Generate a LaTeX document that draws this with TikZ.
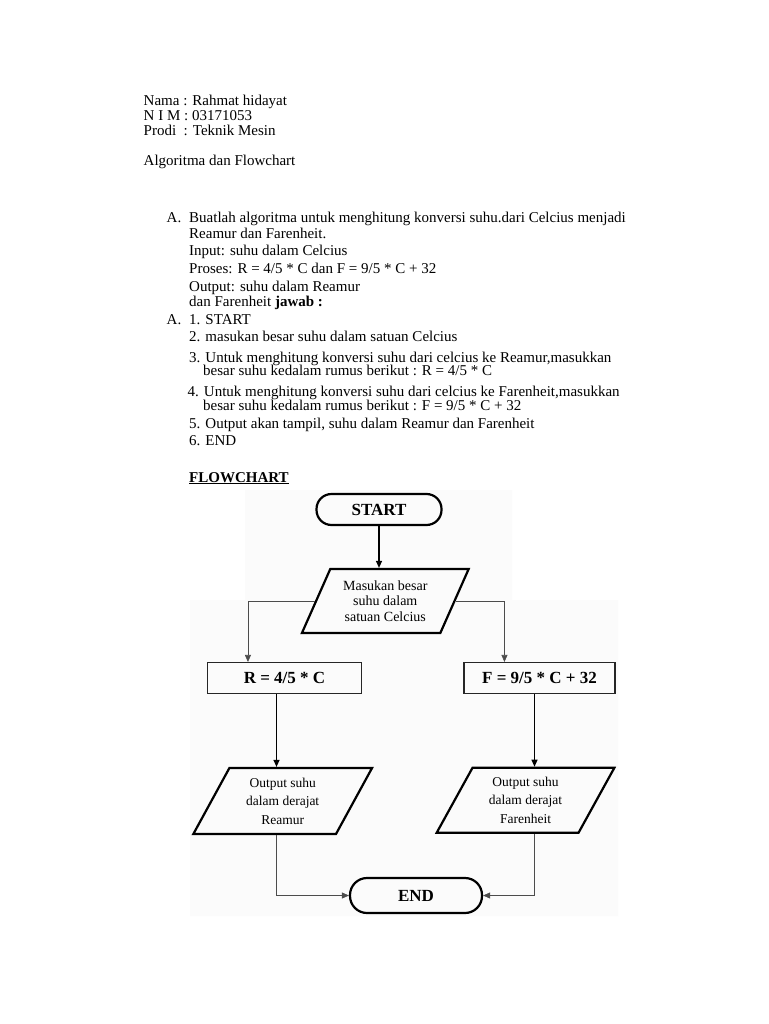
\documentclass[tikz,border=0pt]{standalone}
\usepackage{fontspec}
\setmainfont{Liberation Serif}
\usetikzlibrary{shapes.geometric,arrows.meta}
\tikzset{
  txt/.style={anchor=base west,inner sep=0pt,font=\fontsize{15}{16}\selectfont},
  term/.style={draw,line width=2.2pt,rounded corners=15pt,minimum width=125,minimum height=31,font=\fontsize{17}{19}\selectfont\bfseries},
  io/.style={draw,line width=2.2pt,trapezium,trapezium left angle=62,trapezium right angle=118,trapezium stretches=true,inner sep=0pt,align=center},
  calc/.style={draw,line width=1.1pt,black!85,text=black,minimum height=31,inner sep=0pt,font=\fontsize{17}{19}\selectfont\bfseries},
  arr/.style={line width=1.2pt,-{Triangle[length=7pt,width=6pt]}},
  thin/.style={line width=.6pt,black!70,-{Triangle[length=7pt,width=6pt]}}
}
\begin{document}
\begin{tikzpicture}[x=1pt,y=-1pt]
  \useasboundingbox[fill=white] (0,0) rectangle (768,1024);
  \fill[black!1.5] (245,490)--(512,490)--(512,600)--(618,600)--(618,916)--(190,916)--(190,600)--(245,600)--cycle;
  % header
  \node[txt] (nama) at (143.5,106) {Nama : Rahmat hidayat};
  \node[txt] (nim) at (143.5,121) {N I M : 03171053};
  \node[txt] (prodi) at (143.5,136) {Prodi\ \ : Teknik Mesin};
  \node[txt] (judul) at (143.5,166) {Algoritma dan Flowchart};
  % soal
  \node[txt] (a1) at (166.5,222.5) {A.}; \node[txt] (s1) at (189,222.5) {Buatlah algoritma untuk menghitung konversi suhu.dari Celcius menjadi};
  \node[txt] (s2) at (189,238) {Reamur dan Farenheit.};
  \node[txt] (s3) at (189,255.5) {Input: suhu dalam Celcius};
  \node[txt] (s4) at (189,273.5) {Proses: R = 4/5 * C dan F = 9/5 * C + 32};
  \node[txt] (s5) at (189,291.5) {Output: suhu dalam Reamur};
  \node[txt] (s6) at (189,306.5) {dan Farenheit \textbf{jawab :}};
  % jawab
  \node[txt] (a2) at (166.5,324.5) {A.}; \node[txt] (j1) at (189,324.5) {1. START};
  \node[txt] (j2) at (189,341.5) {2. masukan besar suhu dalam satuan Celcius};
  \node[txt] (j3) at (189,362) {3. Untuk menghitung konversi suhu dari celcius ke Reamur,masukkan};
  \node[txt] (j3b) at (203,375.5) {besar suhu kedalam rumus berikut : R = 4/5 * C};
  \node[txt] (j4) at (187.5,396.5) {4. Untuk menghitung konversi suhu dari celcius ke Farenheit,masukkan};
  \node[txt] (j4b) at (203,410) {besar suhu kedalam rumus berikut : F = 9/5 * C + 32};
  \node[txt] (j5) at (189,428.5) {5. Output akan tampil, suhu dalam Reamur dan Farenheit};
  \node[txt] (j6) at (189,445.5) {6. END};
  \node[txt] (fc) at (189,482) {\underline{\textbf{FLOWCHART}}};
  % flowchart
  \node[term] (start) at (379,509.5) {START};
  \node[io,minimum width=167,minimum height=64,font=\fontsize{14}{15.5}\selectfont] (input) at (385.3,601) {Masukan besar\\suhu dalam\\satuan Celcius};
  \node[calc,minimum width=154] (rbox) at (284.5,678) {R = 4/5 * C};
  \node[calc,minimum width=151] (fbox) at (539.5,678) {F = 9/5 * C + 32};
  \node[io,minimum width=179,minimum height=66,font=\fontsize{13.5}{18.5}\selectfont] (outr) at (282.7,801) {Output suhu\\dalam derajat\\Reamur};
  \node[io,minimum width=178,minimum height=65,font=\fontsize{13.5}{18.5}\selectfont] (outf) at (525.5,800.3) {Output suhu\\dalam derajat\\Farenheit};
  \node[term,minimum width=132,minimum height=35,rounded corners=17pt] (end) at (416,895.5) {END};
  \coordinate (ra) at ([xshift=-8]rbox.south); \coordinate (fa) at ([xshift=-5]fbox.south);
  \draw[arr] (start.south) -- (start.south |- input.north);
  \draw[thin] (input.west) -| ([xshift=41]rbox.north west);
  \draw[thin] (input.east) -| ([xshift=41]fbox.north west);
  \draw[arr] (ra) -- (ra |- outr.north); \draw[arr] (fa) -- (fa |- outf.north);
  \draw[thin] (ra |- outr.south) |- (end.west); \draw[thin] (fa |- outf.south) |- (end.east);
\end{tikzpicture}
\end{document}
